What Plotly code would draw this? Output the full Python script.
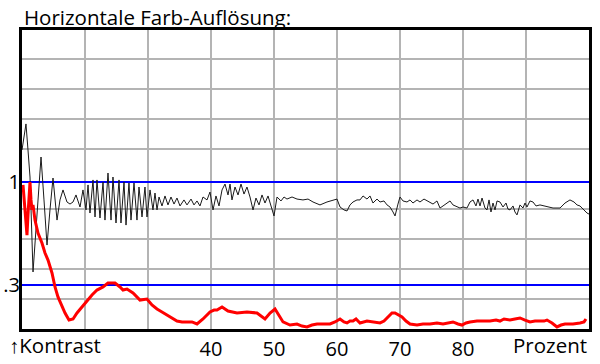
import plotly.graph_objects as go

# Horizontal colour resolution: percent of bandwidth vs contrast
black_x = [10.0, 10.3, 10.63, 10.95, 11.27, 11.75, 12.38, 13.02, 13.49, 13.97, 14.44, 14.92, 15.56, 16.03,
           16.51, 17.14, 17.62, 18.1, 18.57, 19.21, 19.68, 20.16, 20.48, 20.79, 21.27, 21.59, 21.9, 22.38,
           22.86, 23.17, 23.65, 24.13, 24.44, 24.92, 25.4, 25.71, 26.19, 26.51, 26.98, 27.3, 27.78, 28.25,
           28.57, 29.05, 29.52, 29.84, 30.32, 30.79, 31.11, 31.43, 31.75, 32.22, 32.7, 33.17, 33.65, 34.13,
           34.6, 35.08, 35.71, 36.19, 36.83, 37.3, 37.78, 38.25, 38.73, 39.37, 39.84, 40.32, 40.79, 41.27,
           41.75, 42.22, 42.7, 43.02, 43.33, 43.81, 44.29, 44.76, 45.24, 45.71, 46.19, 46.67, 47.14, 47.62,
           48.1, 48.57, 49.05, 49.52, 50.0, 50.48, 51.11, 51.59, 52.06, 52.86, 53.65, 54.6, 55.4, 56.19,
           57.3, 58.41, 59.37, 60.0, 60.48, 61.11, 61.59, 62.06, 62.54, 63.17, 63.65, 64.13, 64.76, 65.24,
           65.71, 66.35, 66.83, 67.46, 67.94, 68.41, 68.89, 69.21, 69.68, 70.0, 70.48, 71.11, 71.59, 72.06,
           72.7, 73.17, 73.81, 74.29, 74.76, 75.24, 75.87, 76.35, 76.83, 77.46, 77.94, 78.41, 79.05, 79.52,
           80.0, 80.63, 81.11, 81.59, 82.06, 82.38, 82.7, 83.02, 83.49, 83.81, 84.13, 84.44, 84.76, 85.08,
           85.4, 85.87, 86.35, 86.83, 87.14, 87.46, 87.94, 88.25, 88.57, 89.05, 89.52, 89.84, 90.16, 90.63,
           91.11, 91.59, 92.22, 92.86, 93.33, 93.81, 94.29, 94.92, 95.4, 96.19, 96.98, 97.62, 98.1, 98.57,
           98.89, 99.37, 99.68, 100.0]
black_y = [1.218, 1.32, 1.395, 1.218, 1.034, 0.388, 0.776, 1.17, 0.878, 0.571, 0.81, 1.027, 0.741, 0.878,
           0.946, 0.864, 0.85, 0.864, 0.912, 0.83, 0.946, 0.81, 0.98, 0.789, 1.014, 0.762, 1.014, 0.755,
           1.0, 0.741, 1.061, 0.741, 1.034, 0.721, 1.014, 0.721, 1.0, 0.707, 0.993, 0.741, 0.993, 0.741,
           0.966, 0.762, 0.966, 0.762, 0.946, 0.81, 0.925, 0.81, 0.898, 0.837, 0.905, 0.844, 0.898, 0.85,
           0.891, 0.837, 0.878, 0.844, 0.884, 0.844, 0.871, 0.837, 0.898, 0.878, 0.932, 0.81, 0.905, 0.837,
           0.946, 0.986, 0.912, 0.986, 0.878, 0.966, 0.912, 0.986, 0.918, 0.966, 0.898, 0.81, 0.891, 0.844,
           0.912, 0.857, 0.905, 0.837, 0.769, 0.898, 0.871, 0.898, 0.884, 0.898, 0.884, 0.878, 0.884, 0.864,
           0.844, 0.864, 0.878, 0.884, 0.83, 0.81, 0.803, 0.844, 0.864, 0.878, 0.878, 0.905, 0.884, 0.905,
           0.857, 0.884, 0.864, 0.871, 0.844, 0.83, 0.796, 0.769, 0.85, 0.898, 0.871, 0.864, 0.878, 0.857,
           0.878, 0.864, 0.884, 0.871, 0.857, 0.85, 0.871, 0.823, 0.837, 0.857, 0.871, 0.844, 0.83, 0.823,
           0.83, 0.823, 0.864, 0.878, 0.837, 0.884, 0.837, 0.891, 0.823, 0.81, 0.878, 0.796, 0.857, 0.81,
           0.871, 0.864, 0.83, 0.857, 0.816, 0.81, 0.837, 0.796, 0.776, 0.844, 0.823, 0.857, 0.83, 0.871,
           0.864, 0.837, 0.844, 0.837, 0.83, 0.83, 0.823, 0.823, 0.823, 0.857, 0.878, 0.864, 0.844, 0.837,
           0.823, 0.803, 0.789, 0.782]

red_x = [10.16, 10.48, 10.79, 10.95, 11.27, 11.43, 11.59, 11.75, 12.06, 12.54, 13.17, 13.65, 14.13, 14.76,
         15.24, 15.71, 16.35, 16.83, 17.46, 18.1, 18.73, 19.52, 20.32, 21.11, 21.9, 22.86, 23.65, 24.76,
         25.56, 26.03, 26.67, 27.62, 28.73, 29.84, 30.63, 31.43, 32.22, 33.02, 33.81, 34.6, 35.4, 36.19,
         36.98, 37.78, 38.73, 39.84, 40.48, 40.95, 41.75, 42.7, 44.13, 45.71, 47.3, 48.57, 49.37, 50.16,
         50.79, 51.43, 52.54, 53.65, 54.44, 55.24, 56.03, 56.83, 57.78, 58.89, 59.68, 60.48, 61.11, 61.59,
         62.06, 62.54, 63.02, 63.65, 64.76, 65.87, 66.83, 67.46, 68.1, 68.73, 69.21, 69.68, 70.32, 70.95,
         71.59, 72.7, 73.65, 74.76, 75.87, 76.83, 77.62, 78.41, 79.21, 79.84, 80.48, 81.11, 82.22, 83.17,
         84.29, 85.24, 85.87, 86.51, 87.46, 88.25, 89.05, 89.84, 90.63, 91.43, 92.22, 92.86, 93.33, 94.13,
         94.92, 95.56, 96.19, 97.46, 98.57, 99.21, 99.52]
red_y = [0.98, 0.776, 0.639, 0.776, 1.0, 0.878, 0.81, 0.844, 0.741, 0.653, 0.585, 0.517, 0.469, 0.381,
         0.286, 0.218, 0.15, 0.109, 0.061, 0.068, 0.109, 0.15, 0.197, 0.231, 0.265, 0.286, 0.313, 0.313,
         0.286, 0.265, 0.272, 0.245, 0.197, 0.204, 0.163, 0.136, 0.116, 0.095, 0.075, 0.054, 0.048, 0.048,
         0.048, 0.034, 0.068, 0.116, 0.129, 0.129, 0.15, 0.122, 0.109, 0.116, 0.109, 0.068, 0.109, 0.136,
         0.095, 0.048, 0.027, 0.034, 0.02, 0.014, 0.027, 0.034, 0.034, 0.034, 0.048, 0.068, 0.048, 0.041,
         0.054, 0.054, 0.068, 0.041, 0.054, 0.048, 0.041, 0.054, 0.082, 0.109, 0.109, 0.095, 0.082, 0.054,
         0.034, 0.027, 0.034, 0.034, 0.041, 0.034, 0.041, 0.048, 0.034, 0.027, 0.041, 0.048, 0.054, 0.054,
         0.054, 0.061, 0.054, 0.068, 0.061, 0.068, 0.075, 0.061, 0.048, 0.054, 0.054, 0.054, 0.061, 0.041,
         0.014, 0.027, 0.034, 0.034, 0.041, 0.048, 0.068]

x_grid = [20, 30, 40, 50, 60, 70, 80, 90]
x_labels = ["", "", "40", "50", "60", "70", "80", ""]
y_ref_vals = [0.3, 1.0]
y_ref_labels = [".3", "1"]
y_grid = [0.204, 0.408, 0.612, 0.816, 1.224, 1.429, 1.633, 1.837]

FONT = "Open Sans"

fig = go.Figure()
fig.add_trace(go.Scatter(x=black_x, y=black_y, mode="lines",
                         line=dict(color="#1a1a1a", width=1), hoverinfo="skip"))
fig.add_trace(go.Scatter(x=red_x, y=red_y, mode="lines",
                         line=dict(color="#ff0000", width=3), hoverinfo="skip"))

fig.update_layout(
    width=600, height=364,
    margin=dict(l=22, r=11, t=30, b=35, autoexpand=False),
    paper_bgcolor="white", plot_bgcolor="white",
    showlegend=False,
    font=dict(family=FONT, size=20, color="black"),
    xaxis=dict(range=[10, 100], tickvals=x_grid, ticktext=x_labels, ticks="",
               showgrid=True, gridcolor="#b4b4b4", gridwidth=1.5, zeroline=False,
               showline=True, linecolor="black", linewidth=3, mirror=True,
               automargin=False, tickfont=dict(size=20)),
    yaxis=dict(range=[0, 2.034], tickvals=y_ref_vals, ticktext=y_ref_labels, ticks="",
               showgrid=True, gridcolor="#0000ff", gridwidth=2, zeroline=False,
               showline=True, linecolor="black", linewidth=3, mirror=True,
               automargin=False, tickfont=dict(size=20), ticklabelstandoff=-5,
               minor=dict(tickvals=y_grid, showgrid=True, gridcolor="#b4b4b4", gridwidth=1.5, ticks="")),
)

fig.add_annotation(text="Horizontale Farb-Auflösung:", xref="paper", yref="paper",
                   x=0.0, y=1.043, xanchor="left", yanchor="middle", showarrow=False,
                   font=dict(size=20.5))
fig.add_annotation(text="↑Kontrast", xref="paper", yref="paper",
                   x=-0.027, y=-0.054, xanchor="left", yanchor="middle", showarrow=False,
                   font=dict(size=20.5))
fig.add_annotation(text="Prozent", xref="paper", yref="paper",
                   x=1.0, y=-0.054, xanchor="right", yanchor="middle", showarrow=False,
                   font=dict(size=20.5))

fig.write_html("out.html")
